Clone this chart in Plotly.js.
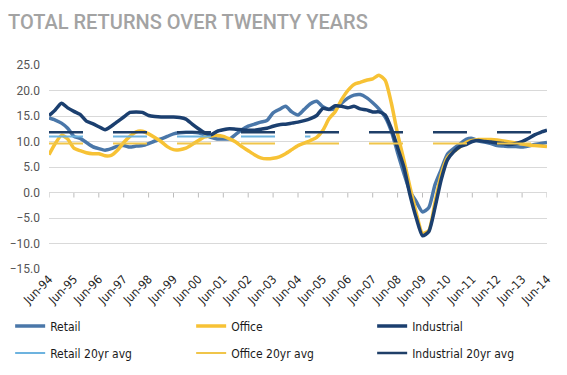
<!DOCTYPE html>
<html>
<head>
<meta charset="utf-8">
<script src="https://cdn.plot.ly/plotly-3.0.1.min.js"></script>
<style>html,body{margin:0;padding:0;background:#fff;}#chart{width:567px;height:375px;}</style>
</head>
<body>
<div id="chart"></div>
<script>
// Quarterly observations, Jun-94 .. Jun-14 (81 points)
const tickLabels = ['Jun-94','Jun-95','Jun-96','Jun-97','Jun-98','Jun-99','Jun-00','Jun-01','Jun-02','Jun-03','Jun-04','Jun-05','Jun-06','Jun-07','Jun-08','Jun-09','Jun-10','Jun-11','Jun-12','Jun-13','Jun-14'];
const quarterMonths = ['Jun','Sep','Dec','Mar'];

const retail = [14.6,14.2,13.6,12.6,11.0,10.6,9.8,9.0,8.6,8.3,
  8.6,9.1,9.2,8.9,9.1,9.2,9.6,10.1,10.5,11.0,
  11.5,11.7,11.8,11.8,11.7,11.3,10.8,10.5,10.5,10.5,
  11.4,12.3,13.0,13.4,13.8,14.1,15.6,16.3,16.9,15.8,
  15.2,16.3,17.4,17.9,16.8,16.3,16.5,17.5,18.5,19.1,
  19.2,18.6,17.6,16.4,14.8,12.0,7.8,3.8,0.2,-1.8,
  -3.8,-3.0,1.5,4.5,7.5,8.6,9.5,10.4,10.6,10.1,
  9.9,9.6,9.2,9.1,9.0,9.0,8.9,9.1,9.4,9.6,9.8];

const office = [7.4,9.6,11.2,10.5,8.7,8.2,7.8,7.6,7.6,7.2,
  7.3,8.3,9.8,11.0,11.9,12.0,11.5,10.8,10.0,9.0,
  8.4,8.4,8.7,9.4,10.2,10.9,11.1,11.2,11.0,10.5,
  9.9,9.0,8.2,7.4,6.8,6.6,6.7,7.0,7.6,8.4,
  9.2,9.7,10.2,10.8,12.2,14.5,15.9,18.2,20.0,21.2,
  21.6,22.0,22.3,23.0,22.0,17.5,11.5,6.4,1.0,-4.0,
  -8.0,-7.5,-2.0,3.5,6.8,8.0,8.9,9.8,10.2,10.4,
  10.4,10.4,10.3,10.1,9.9,9.7,9.5,9.3,9.2,9.1,9.0];

const industrial = [15.1,16.2,17.5,16.6,15.9,15.3,14.0,13.5,12.9,12.3,
  13.0,13.9,14.8,15.7,15.8,15.7,15.1,14.9,14.8,14.8,
  14.8,14.7,14.4,13.4,12.5,11.7,11.3,12.0,12.3,12.5,
  12.4,12.3,12.2,12.2,12.4,12.6,13.0,13.3,13.4,13.6,
  13.8,14.1,14.5,15.1,16.5,16.3,17.0,16.9,16.6,16.9,
  16.4,16.2,15.8,15.8,15.2,12.5,8.8,5.0,-0.5,-5.0,
  -8.5,-7.7,-3.0,2.5,6.4,8.0,9.0,9.4,10.0,10.2,
  10.0,9.9,9.7,9.6,9.4,9.6,10.0,10.6,11.3,11.8,12.2];

const retailAvgValue = 11.0;
const officeAvgValue = 9.6;
const industrialAvgValue = 11.8;
const retailAvgLastIndex = 42; // retail average series stops here in the source

// build quarter categories
const quarters = retail.map((_, i) => {
  const yr = (94 + Math.floor((i + 1) / 4)) % 100;
  return quarterMonths[i % 4] + '-' + String(yr).padStart(2, '0');
});

const retailAvg = quarters.map((_, i) => i <= retailAvgLastIndex ? retailAvgValue : null);
const officeAvg = quarters.map(() => officeAvgValue);
const industrialAvg = quarters.map(() => industrialAvgValue);

const Y_MIN = -15, Y_MAX = 25;
const DASH = '34px,30px';
const traces = [
  {x: quarters, y: retail, name: 'Retail', mode: 'lines', line: {color: '#4a77a9', width: 3.5, shape: 'spline', smoothing: 0.6}, legend: 'legend'},
  {x: quarters, y: office, name: 'Office', mode: 'lines', line: {color: '#f7c235', width: 3.5, shape: 'spline', smoothing: 0.6}, legend: 'legend'},
  {x: quarters, y: industrial, name: 'Industrial', mode: 'lines', line: {color: '#1b3f6f', width: 3.5, shape: 'spline', smoothing: 0.6}, legend: 'legend'},
  {x: quarters, y: retailAvg, name: 'Retail 20yr avg', mode: 'lines', line: {color: '#6db3df', width: 2, dash: DASH}, legend: 'legend2'},
  {x: quarters, y: officeAvg, name: 'Office 20yr avg', mode: 'lines', line: {color: '#f0c54a', width: 2, dash: DASH}, legend: 'legend2'},
  {x: quarters, y: industrialAvg, name: 'Industrial 20yr avg', mode: 'lines', line: {color: '#1f3f68', width: 2.5, dash: DASH}, legend: 'legend2'}
];

const plotTop = 65, plotBottom = 269;
const plotH = plotBottom - plotTop;
const paperY = px => (plotBottom - px) / plotH;
const zeroPaper = (0 - Y_MIN) / (Y_MAX - Y_MIN);

// small tick marks hanging below the zero line at each year label
const tickShapes = tickLabels.map(lab => ({
  type: 'line', xref: 'x', yref: 'paper',
  x0: quarters.indexOf(lab), x1: quarters.indexOf(lab),
  y0: zeroPaper, y1: zeroPaper - 5 / plotH,
  line: {color: '#bcbcbc', width: 1}, layer: 'below'
}));

const legendFont = {family: '"Liberation Sans Narrow", "DejaVu Sans Condensed", sans-serif', size: 12, color: '#1a1a1a'};
const legendCommon = {
  orientation: 'h', xref: 'paper', yref: 'paper', xanchor: 'left', yanchor: 'middle',
  x: -0.078, entrywidth: 136, entrywidthmode: 'pixels', font: legendFont,
  bgcolor: 'rgba(0,0,0,0)', itemclick: false, traceorder: 'normal'
};

const layout = {
  width: 567, height: 375,
  margin: {l: 49, r: 20, t: plotTop, b: 375 - plotBottom, autoexpand: false},
  paper_bgcolor: '#ffffff', plot_bgcolor: '#ffffff',
  title: {
    text: 'TOTAL RETURNS OVER TWENTY YEARS',
    x: 8 / 567, xref: 'container', xanchor: 'left',
    y: 1 - 22 / 375, yref: 'container', yanchor: 'middle',
    font: {family: 'Roboto, "Liberation Sans", sans-serif', size: 20, color: '#a3a3a3', weight: 500}
  },
  showlegend: true,
  legend: Object.assign({}, legendCommon, {y: paperY(326)}),
  legend2: Object.assign({}, legendCommon, {y: paperY(353)}),
  xaxis: {
    type: 'category', range: [0, quarters.length - 1],
    tickvals: tickLabels, ticktext: tickLabels, tickangle: -45,
    showgrid: false, zeroline: false, showline: false, ticks: '',
    tickfont: {family: '"Liberation Sans Narrow", "DejaVu Sans Condensed", sans-serif', size: 12, color: '#262626'}
  },
  yaxis: {
    range: [Y_MIN, Y_MAX], dtick: 5, tick0: 0, tickformat: '.1f',
    showgrid: true, gridcolor: '#d9d9d9', gridwidth: 1, zeroline: false, showline: false, ticks: '',
    ticklabelstandoff: 8,
    tickfont: {family: 'Roboto, "Open Sans", sans-serif', size: 12, color: '#555555'}
  },
  shapes: tickShapes
};

Plotly.newPlot('chart', traces, layout, {staticPlot: true, displayModeBar: false});
</script>
</body>
</html>
